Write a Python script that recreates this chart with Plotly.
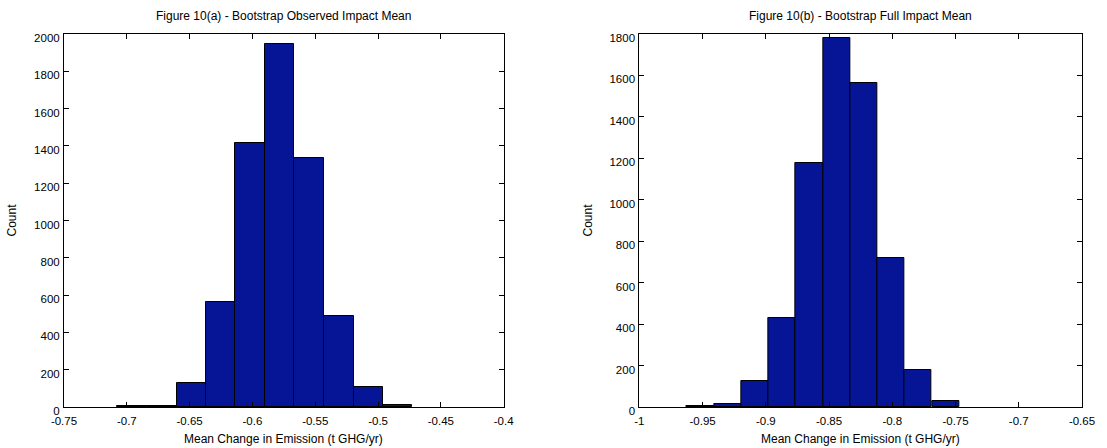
import plotly.graph_objects as go

# Panel (a): Bootstrap Observed Impact Mean
a_centers = [-0.6957, -0.6722, -0.6487, -0.6252, -0.6018, -0.5783, -0.5548, -0.5313, -0.5078, -0.4844]
a_counts = [4, 7, 127, 561, 1415, 1946, 1333, 490, 107, 13]
a_xticks = [-0.75, -0.7, -0.65, -0.6, -0.55, -0.5, -0.45, -0.4]
a_xticklabels = ["-0.75", "-0.7", "-0.65", "-0.6", "-0.55", "-0.5", "-0.45", "-0.4"]
a_yticks = [0, 200, 400, 600, 800, 1000, 1200, 1400, 1600, 1800, 2000]

# Panel (b): Bootstrap Full Impact Mean
b_centers = [-0.9518, -0.9303, -0.9087, -0.8872, -0.8656, -0.8441, -0.8225, -0.8010, -0.7795, -0.7579]
b_counts = [3, 14, 125, 431, 1179, 1779, 1563, 721, 179, 29]
b_xticks = [-1, -0.95, -0.9, -0.85, -0.8, -0.75, -0.7, -0.65]
b_xticklabels = ["-1", "-0.95", "-0.9", "-0.85", "-0.8", "-0.75", "-0.7", "-0.65"]
b_yticks = [0, 200, 400, 600, 800, 1000, 1200, 1400, 1600, 1800]

titles = ["Figure 10(a) - Bootstrap Observed Impact Mean", "Figure 10(b) - Bootstrap Full Impact Mean"]
xlabel = "Mean Change in Emission (t GHG/yr)"
ylabel = "Count"

BAR = "rgb(6,20,150)"
FONT = "Liberation Sans"
TICKSIZE = 11.5
LABELSIZE = 12

fig = go.Figure()
wa = a_centers[1] - a_centers[0]
wb = b_centers[1] - b_centers[0]
fig.add_trace(go.Bar(x=a_centers, y=a_counts, width=[wa] * len(a_centers),
                     marker=dict(color=BAR, line=dict(color="black", width=1)),
                     xaxis="x", yaxis="y", showlegend=False))
fig.add_trace(go.Bar(x=b_centers, y=b_counts, width=[wb] * len(b_centers),
                     marker=dict(color=BAR, line=dict(color="black", width=1)),
                     xaxis="x2", yaxis="y2", showlegend=False))

L, R = 63, 16
plot_w = 1107 - L - R
left_dom = [0, 444 / plot_w]
right_dom = [(644 - L) / plot_w, 1]

axis_common = dict(showgrid=False, zeroline=False, showline=True, linecolor="black", linewidth=1,
                   mirror="ticks", ticks="inside", ticklen=5, tickcolor="black",
                   tickfont=dict(family=FONT, size=TICKSIZE, color="black"))
x_extra = dict(ticklabelstandoff=3)
y_extra = dict(ticklabelshift=4, ticklabelstandoff=1)

annot_font = dict(family=FONT, size=LABELSIZE, color="black")
annotations = []
for dom, title in zip([left_dom, right_dom], titles):
    cx = sum(dom) / 2
    annotations.append(dict(text=title, x=cx, y=1, xref="paper", yref="paper", xanchor="center",
                            yanchor="bottom", yshift=9, showarrow=False, font=annot_font))
    annotations.append(dict(text=xlabel, x=cx, y=0, xref="paper", yref="paper", xanchor="center",
                            yanchor="top", yshift=-24, showarrow=False, font=annot_font, borderpad=0))

fig.update_layout(
    width=1107, height=448,
    margin=dict(l=L, r=R, t=34, b=41),
    paper_bgcolor="white", plot_bgcolor="white",
    bargap=0,
    hovermode=False,
    font=dict(family=FONT, size=LABELSIZE, color="black"),
    xaxis=dict(domain=left_dom, range=[-0.75, -0.4], tickvals=a_xticks, ticktext=a_xticklabels,
               **axis_common, **x_extra),
    yaxis=dict(domain=[0, 1], range=[0, 2000], tickvals=a_yticks,
               title=dict(text=ylabel, standoff=14, font=dict(family=FONT, size=LABELSIZE)),
               **axis_common, **y_extra),
    xaxis2=dict(domain=right_dom, range=[-1, -0.65], tickvals=b_xticks, ticktext=b_xticklabels,
                anchor="y2", **axis_common, **x_extra),
    yaxis2=dict(domain=[0, 1], range=[0, 1800], tickvals=b_yticks, anchor="x2",
                title=dict(text=ylabel, standoff=14, font=dict(family=FONT, size=LABELSIZE)),
                **axis_common, **y_extra),
    annotations=annotations,
)

fig.write_html("out.html", config={"displayModeBar": False},
               post_script="document.body.style.margin='0px';document.body.style.overflow='hidden';")
